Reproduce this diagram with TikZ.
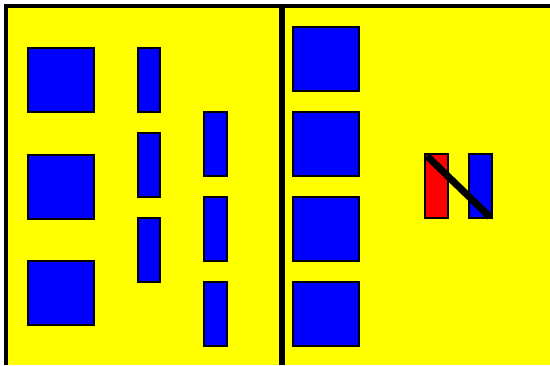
\documentclass[tikz,border=0pt]{standalone}
\definecolor{bgyellow}{RGB}{255,255,0}
\definecolor{pureblue}{RGB}{0,0,255}
\definecolor{purered}{RGB}{255,0,0}
\begin{document}
\begin{tikzpicture}[x=0.02cm,y=-0.02cm,
  bluebox/.style={fill=pureblue,draw=black,line width=0.6pt},
  redbox/.style={fill=purered,draw=black,line width=0.6pt},
  frame/.style={draw=black,line width=2.3pt}]
\useasboundingbox (0,0) rectangle (550,365);
\fill[white] (0,0) rectangle (550,365);
\fill[bgyellow] (4,4) rectangle (550,365);
\draw[frame] (6,365) -- (6,6) -- (550,6);
\draw[draw=black,line width=3.2pt] (282,6) -- (282,365);
% left column squares
\foreach \y in {48,155,261} \draw[bluebox] (28,\y) rectangle (94,\y+64);
% second column
\foreach \y in {48,133,218} \draw[bluebox] (138,\y) rectangle (160,\y+64);
% third column
\foreach \y in {112,197,282} \draw[bluebox] (204,\y) rectangle (227,\y+64);
% right squares
\foreach \y in {27,112,197,282} \draw[bluebox] (293,\y) rectangle (359,\y+64);
% red and blue bars
\draw[redbox] (425,154) rectangle (448,218);
\draw[bluebox] (469,154) rectangle (492,218);
\draw[black,line width=4pt] (427,156) -- (490,217);
\end{tikzpicture}
\end{document}
